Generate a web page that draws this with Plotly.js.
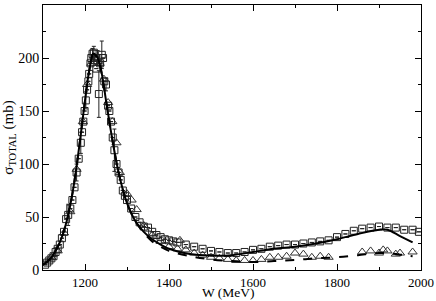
<!DOCTYPE html>
<html><head><meta charset="utf-8">
<script src="https://cdn.plot.ly/plotly-3.0.1.min.js"></script>
<style>html,body{margin:0;padding:0;background:#fff;}#c{width:436px;height:301px;}</style>
</head><body><div id="c"></div>
<script>
// Model curves
var curveW = [1100,1110,1120,1130,1140,1150,1160,1170,1180,1190,1200,1210,1220,1230,1240,1250,1260,1270,1280,1290,1300,1320,1340,1360,1380,1400,1450,1500,1550,1600,1650,1700,1750,1800,1850,1900,1920,1950,1980];
var solidSigma = [5,8,12,18,26,37,52,72,98,128,160,188,204,200,185,160,135,112,92,76,63,46,36,29,24,20,15,13.5,14,17,20,22,25,29,34,38,38,32,26];
var dashW = [1100,1110,1120,1130,1140,1150,1160,1170,1180,1190,1200,1210,1220,1230,1240,1250,1260,1270,1280,1290,1300,1320,1340,1360,1380,1400,1450,1500,1550,1600,1650,1700,1750,1800,1850,1900,1930,1960,1980];
var dashSigma = [5,8,12,18,26,37,52,72,98,128,160,188,204,200,185,160,135,112,92,76,63,46,35,27,22,18,13,10,8.5,7.5,8.5,9.5,11,12,14,16,15.5,14,13];
// Data set 1 (squares)
var sqW = [1105,1110,1115,1120,1125,1130,1135,1140,1145,1150,1155,1160,1165,1170,1175,1180,1185,1190,1193,1196,1199,1202,1205,1208,1210,1213,1215,1218,1221,1224,1227,1230,1233,1236,1240,1243,1246,1250,1255,1258,1262,1266,1270,1275,1280,1285,1290,1295,1300,1310,1320,1330,1340,1350,1360,1370,1380,1390,1400,1410,1420,1440,1460,1480,1500,1520,1540,1560,1580,1600,1620,1640,1660,1680,1700,1720,1740,1760,1780,1800,1820,1840,1860,1880,1900,1920,1940,1960,1980,1995];
var sqSigma = [5,7,9,11,13,17,20,24,30,36,48,52,58,66,78,92,105,120,130,140,150,160,170,178,185,195,200,204,205,198,190,200,166,195,203,200,178,175,155,150,140,125,113,100,92,85,75,70,66,58,50,45,41,40,36,33,31,29,28,27,26,24,22,20,18,17,16,16,17,19,20,22,23,24,24,25,26,27,28,31,34,37,39,40,41,40,40,38,38,36];
var sqErr = [0,0,0,0,0,4,0,0,0,0,0,10,0,0,0,8,0,10,0,0,0,8,0,0,0,0,0,5,6,0,0,7,22,0,13,0,0,6,0,0,0,0,20,0,0,0,0,0,0,0,0,0,0,0,0,0,0,0,0,0,0,0,0,0,0,0,0,0,0,0,0,0,0,0,0,0,0,0,0,0,0,0,0,0,0,0,0,0,0,0];
// Data set 2 (triangles)
var trW = [1120,1135,1150,1165,1180,1195,1205,1215,1225,1235,1245,1255,1265,1275,1283,1300,1311,1323,1340,1360,1380,1400,1420,1426,1440,1460,1480,1500,1520,1540,1560,1580,1600,1620,1640,1660,1680,1700,1720,1740,1760,1780,1860,1880,1900,1910,1920,1940,1950,1980];
var trSigma = [12,18,35,55,95,140,175,195,200,195,180,158,140,120,92,72,66,57,42,33,27,22,20,28,19,16,14,12,11,10,9,9,9,10,12,12,13,16,15,12,13,12,17,18,16,19,18,15,16,17];

var xTicks = [1200,1400,1600,1800,2000];
var yTicks = [0,50,100,150,200,250];

var traces = [
  {x: trW, y: trSigma, mode:'markers', type:'scatter',
   marker:{symbol:'triangle-up-open', size:8, color:'#333', line:{width:1,color:'#333'}}},
  {x: sqW, y: sqSigma, mode:'markers', type:'scatter',
   marker:{symbol:'square-open', size:7, color:'#222', line:{width:1,color:'#222'}},
   error_y:{type:'data', array: sqErr, visible:true, color:'#222', thickness:1, width:2}},
  {x: curveW, y: solidSigma, mode:'lines', type:'scatter', line:{color:'#000', width:2, shape:'spline'}},
  {x: dashW, y: dashSigma, mode:'lines', type:'scatter', line:{color:'#000', width:2, dash:'dash', shape:'spline'}}
];

var FONT = 'Liberation Serif, Times New Roman, serif';
var axisCommon = {
  showgrid:false, zeroline:false, showline:true, linecolor:'#000', linewidth:1, mirror:'allticks',
  ticks:'inside', ticklen:6, tickwidth:1, tickcolor:'#000',
  tickfont:{family:FONT, size:14, color:'#000'}
};

var layout = {
  width:436, height:301,
  margin:{l:43, r:15, t:5, b:31},
  showlegend:false,
  paper_bgcolor:'#fff', plot_bgcolor:'#fff',
  xaxis: Object.assign({}, axisCommon, {
    range:[1100,2000], tickvals: xTicks, ticktext: xTicks.map(String),
    tickfont:{family:FONT, size:13, color:'#000'},
    minor:{dtick:100, tick0:1100, ticks:'inside', ticklen:3, tickcolor:'#000'}
  }),
  yaxis: Object.assign({}, axisCommon, {
    range:[0,250], tickvals: yTicks, ticktext: yTicks.map(String),
    minor:{dtick:25, tick0:0, ticks:'inside', ticklen:3, tickcolor:'#000'},
    title:{text:'σ<sub>TOTAL</sub> (mb)', standoff:2, font:{family:FONT, size:15, color:'#000'}}
  }),
  annotations:[
    {text:'W (MeV)', xref:'paper', yref:'paper', x:0.49, y:-0.117, xanchor:'center', yanchor:'bottom',
     borderpad:0, showarrow:false, font:{family:FONT, size:13.5, color:'#000'}}
  ]
};

Plotly.newPlot('c', traces, layout, {displayModeBar:false, staticPlot:true});
</script>
</body></html>
